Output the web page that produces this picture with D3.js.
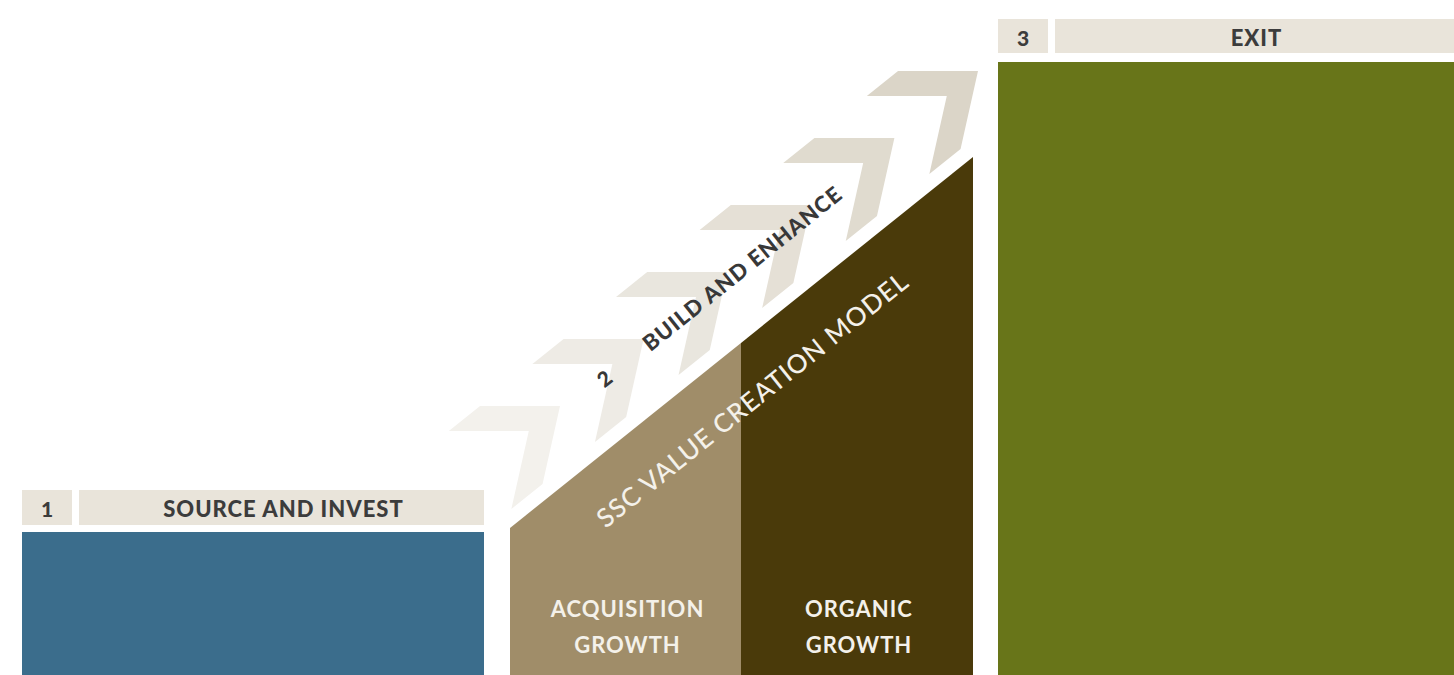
<!DOCTYPE html>
<html>
<head>
<meta charset="utf-8">
<script src="https://cdn.jsdelivr.net/npm/d3@7"></script>
<style>
  body { margin: 0; background: #ffffff; }
  svg { display: block; }
</style>
</head>
<body>
<div id="chart"></div>
<script>
// content
const stageNumbers = ["1", "2", "3"];
const stageNames = ["SOURCE AND INVEST", "BUILD AND ENHANCE", "EXIT"];
const modelTitle = "SSC VALUE CREATION MODEL";
const growthTypes = [["ACQUISITION", "GROWTH"], ["ORGANIC", "GROWTH"]];
const chevronSteps = [0, 1, 2, 3, 4, 5];

const colors = {
  header: "#e9e4da",
  headerText: "#3c3c3c",
  source: "#3b6d8c",
  acquisition: "#a08d69",
  organic: "#4a3a0a",
  exit: "#687519",
  chevronLow: "#f3f1ec",
  chevronHigh: "#dbd5c8"
};

const width = 1454, height = 675;

const svg = d3.select("#chart").append("svg")
  .attr("width", width)
  .attr("height", height);

// ---- stage 1 and 3 blocks with their header strips
let blocks = [
  { num: stageNumbers[0], name: stageNames[0], x0: 22, x1: 484, top: 532, headTop: 490, headBottom: 525, fill: colors.source },
  { num: stageNumbers[2], name: stageNames[2], x0: 998, x1: 1454, top: 62, headTop: 19, headBottom: 53, fill: colors.exit }
];

blocks.forEach(function (b) {
  let g = svg.append("g");
  g.append("rect")
    .attr("x", b.x0).attr("y", b.top)
    .attr("width", b.x1 - b.x0).attr("height", height - b.top)
    .style("fill", b.fill);
  g.append("rect")
    .attr("x", b.x0).attr("y", b.headTop)
    .attr("width", 50).attr("height", b.headBottom - b.headTop)
    .style("fill", colors.header);
  g.append("rect")
    .attr("x", b.x0 + 57).attr("y", b.headTop)
    .attr("width", b.x1 - b.x0 - 57).attr("height", b.headBottom - b.headTop)
    .style("fill", colors.header);
  g.append("text")
    .attr("x", b.x0 + 25).attr("y", (b.headTop + b.headBottom) / 2 + 1)
    .attr("text-anchor", "middle").attr("dominant-baseline", "central")
    .attr("font-family", "Lato").attr("font-weight", "900").attr("font-size", "21px")
    .style("fill", colors.headerText)
    .text(b.num);
  g.append("text")
    .attr("x", (b.x0 + 57 + b.x1) / 2 + 2).attr("y", (b.headTop + b.headBottom) / 2 + 1)
    .attr("text-anchor", "middle").attr("dominant-baseline", "central")
    .attr("font-family", "Lato").attr("font-weight", "900").attr("font-size", "22px")
    .attr("letter-spacing", "1px")
    .style("fill", colors.headerText)
    .text(b.name);
});

// ---- stage 2: the ramp
let ramp = { x0: 510, xMid: 741, x1: 973, yLow: 528, yHigh: 157 };
let rampY = d3.scaleLinear().domain([ramp.x0, ramp.x1]).range([ramp.yLow, ramp.yHigh]);
let theta = Math.atan2(ramp.yLow - ramp.yHigh, ramp.x1 - ramp.x0);
let deg = theta * 180 / Math.PI;

let parts = [
  { a: ramp.x0, b: ramp.xMid, fill: colors.acquisition, label: growthTypes[0] },
  { a: ramp.xMid, b: ramp.x1, fill: colors.organic, label: growthTypes[1] }
];

svg.selectAll()
  .data(parts)
  .enter()
  .append("path")
  .attr("d", p => d3.line()([[p.a, rampY(p.a)], [p.b, rampY(p.b)], [p.b, height], [p.a, height]]) + "Z")
  .style("fill", p => p.fill);

svg.selectAll()
  .data(parts)
  .enter()
  .append("text")
  .attr("x", p => (p.a + p.b) / 2 + 2)
  .attr("y", 617)
  .attr("text-anchor", "middle")
  .attr("font-family", "Lato").attr("font-weight", "bold").attr("font-size", "22px")
  .attr("letter-spacing", "1px")
  .style("fill", "#f4f1ea")
  .each(function (p) {
    d3.select(this).selectAll("tspan")
      .data(p.label)
      .enter()
      .append("tspan")
      .attr("x", (p.a + p.b) / 2 + 2)
      .attr("dy", (d, i) => i == 0 ? 0 : 36)
      .text(d => d);
  });

// ---- chevrons along the ramp
let tipX = d3.scaleLinear().domain([0, 5]).range([560, 978]);
let tipY = d3.scaleLinear().domain([0, 5]).range([406, 71]);
let chevronColor = d3.scaleLinear().domain([0, 5]).range([colors.chevronLow, colors.chevronHigh]);

let dir = [Math.cos(theta), -Math.sin(theta)];
let nrm = [Math.sin(theta), Math.cos(theta)];
let half = theta;          // arm half-angle, keeps the top arm level
let w = 50, thick = 40;
let back = w / Math.tan(half);
let localShape = [[0, 0], [-back, -w], [-back - thick, -w], [-thick, 0], [-back - thick, w], [-back, w]];

function chevron(i) {
  let tx = tipX(i), ty = tipY(i);
  return d3.line()(localShape.map(p => [tx + p[0] * dir[0] + p[1] * nrm[0], ty + p[0] * dir[1] + p[1] * nrm[1]])) + "Z";
}

svg.insert("g", ":first-child")
  .selectAll("path")
  .data(chevronSteps)
  .enter()
  .append("path")
  .attr("d", chevron)
  .style("fill", d => chevronColor(d));

// ---- rotated labels
svg.append("text")
  .attr("transform", "translate(604,378) rotate(" + (-deg) + ")")
  .attr("text-anchor", "middle").attr("dominant-baseline", "central")
  .attr("font-family", "Lato").attr("font-weight", "900").attr("font-size", "21px")
  .style("fill", "#383838")
  .text(stageNumbers[1]);

svg.append("text")
  .attr("transform", "translate(742,268) rotate(" + (-deg) + ")")
  .attr("text-anchor", "middle").attr("dominant-baseline", "central")
  .attr("font-family", "Lato").attr("font-weight", "900").attr("font-size", "22px")
  .attr("letter-spacing", "1px")
  .style("fill", "#383838")
  .text(stageNames[1]);

svg.append("text")
  .attr("transform", "translate(752,399) rotate(" + (-deg) + ")")
  .attr("text-anchor", "middle").attr("dominant-baseline", "central")
  .attr("font-family", "Lato").attr("font-weight", "500").attr("font-size", "26px")
  .attr("letter-spacing", "1px")
  .style("fill", "#f4f1ea")
  .text(modelTitle);
</script>
</body>
</html>
